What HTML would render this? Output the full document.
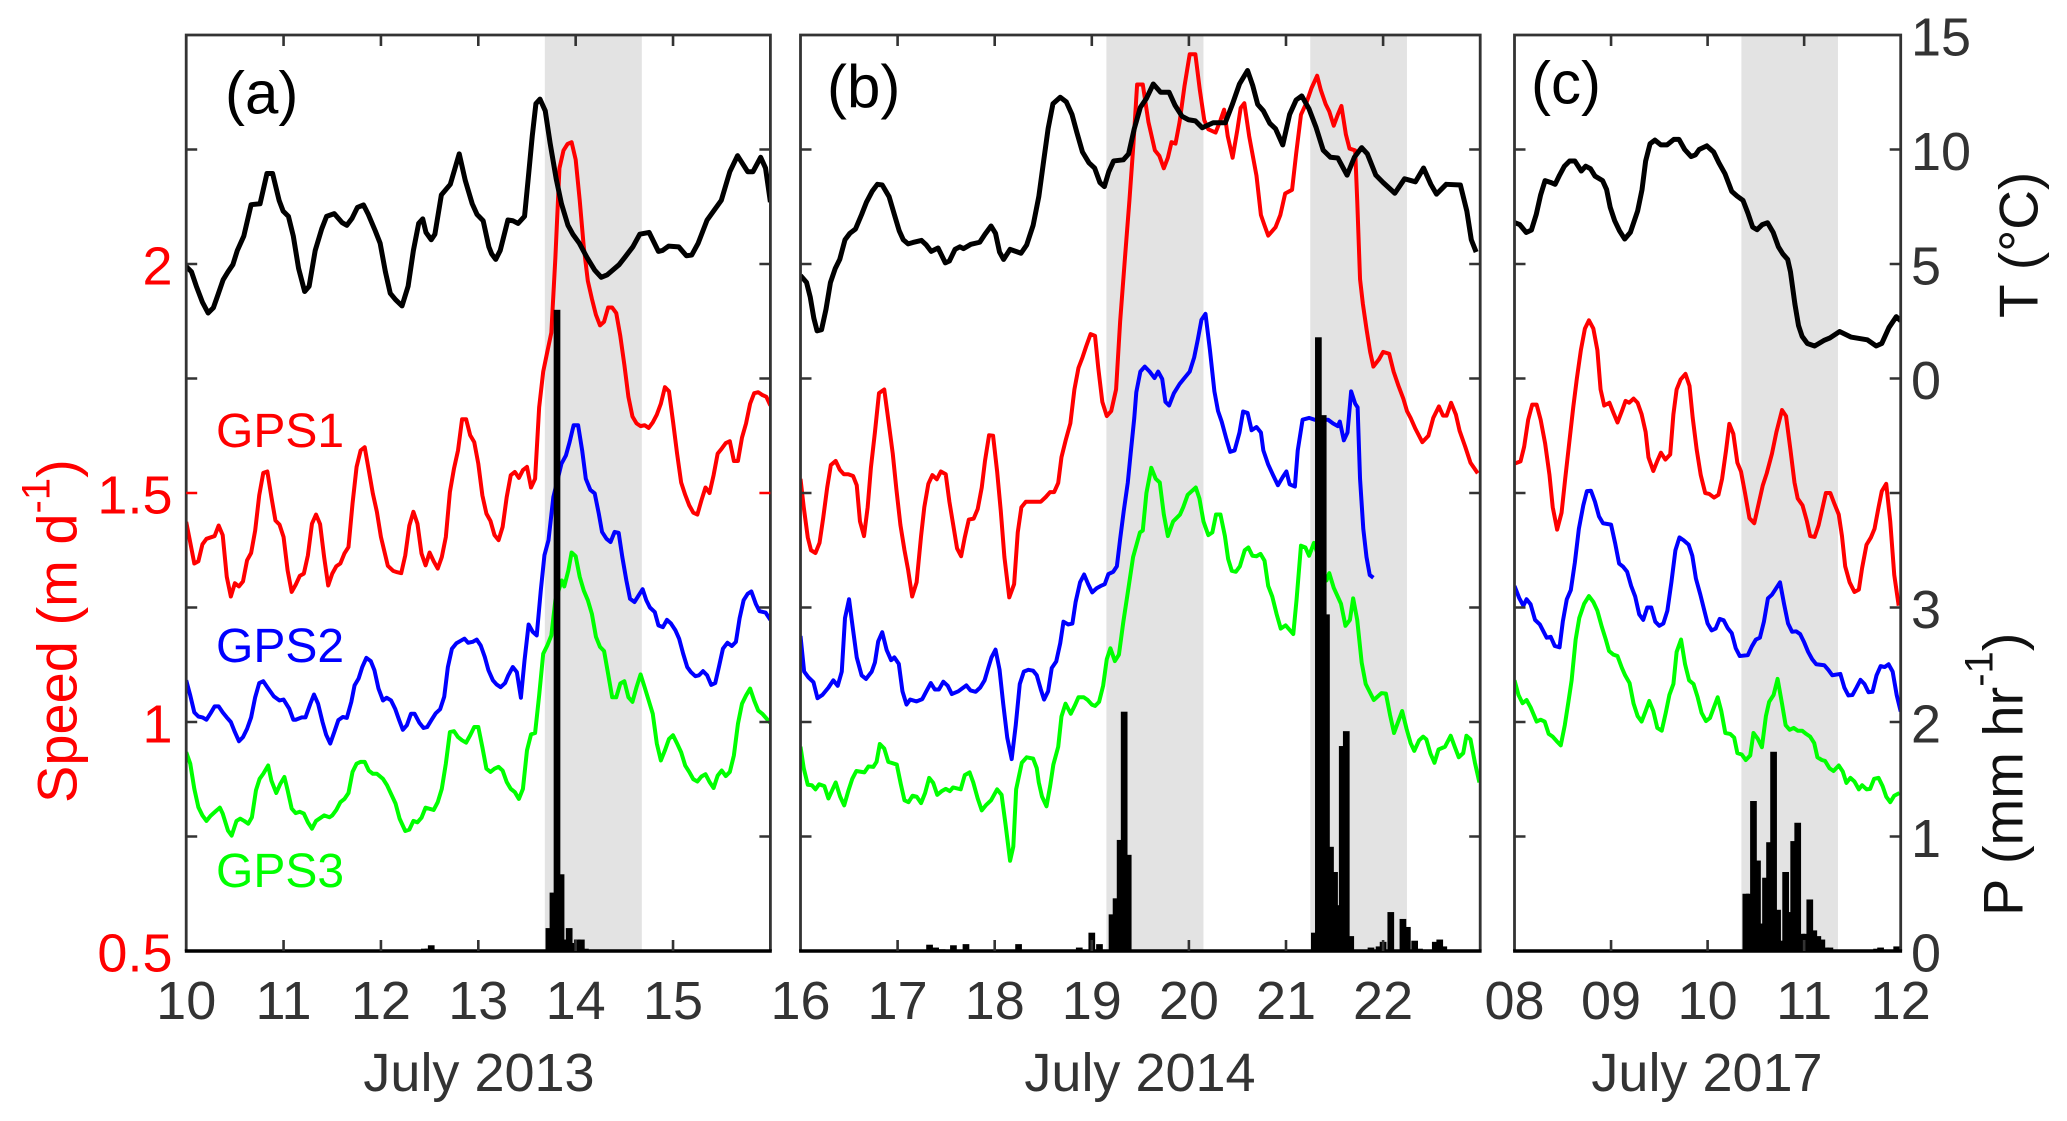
<!DOCTYPE html>
<html lang="en">
<head>
<meta charset="utf-8">
<title>Ice speed, temperature and precipitation, July 2013, 2014, 2017</title>
<style>
html,body{margin:0;padding:0;background:#fff;}
svg{display:block;font-family:"Liberation Sans",Arial,sans-serif;}
</style>
</head>
<body>
<svg id="chart" xmlns="http://www.w3.org/2000/svg" width="2067" height="1121" viewBox="0 0 2067 1121">
  <g id="panels"></g>
  <g id="axis-labels"></g>
  <text x="225" y="113.5" font-size="60" fill="#000">(a)</text>
  <text x="827" y="107" font-size="60" fill="#000">(b)</text>
  <text x="1531" y="103.5" font-size="60" fill="#000">(c)</text>
  <text x="216" y="447" font-size="48" fill="#ff0000">GPS1</text>
  <text x="216" y="662" font-size="48" fill="#0000ff">GPS2</text>
  <text x="216" y="887" font-size="48" fill="#00ff00">GPS3</text>
  <text x="479" y="1091" font-size="54" fill="#333" text-anchor="middle">July 2013</text>
  <text x="1140" y="1091" font-size="54" fill="#333" text-anchor="middle">July 2014</text>
  <text x="1707" y="1091" font-size="54" fill="#333" text-anchor="middle">July 2017</text>
  <text transform="translate(76.5,803) rotate(-90)" font-size="56" fill="#ff0000">Speed (m d<tspan font-size="40" dy="-27">-1</tspan><tspan dy="27">)</tspan></text>
  <text transform="translate(2037.5,318) rotate(-90)" font-size="55" fill="#111">T (°C)</text>
  <text transform="translate(2022.5,916) rotate(-90)" font-size="56" fill="#111">P (mm hr<tspan font-size="40" dy="-30">-1</tspan><tspan dy="30">)</tspan></text>
</svg>
<script>
// Every series is a list of [hours since the first midnight of the panel, value].
const speedTicks = [0.75, 1, 1.25, 1.5, 1.75, 2, 2.25];
const speedTickLabels = [[0.5, "0.5"], [1, "1"], [1.5, "1.5"], [2, "2"]];
const tempTickLabels = [[0, "0"], [5, "5"], [10, "10"], [15, "15"]];
const precipTickLabels = [[0, "0"], [1, "1"], [2, "2"], [3, "3"]];
const daysA = ["10", "11", "12", "13", "14", "15"];
const daysB = ["16", "17", "18", "19", "20", "21", "22"];
const daysC = ["08", "09", "10", "11", "12"];
const shadeHoursA = [[88.4, 112.3]];
const shadeHoursB = [[75.6, 99.6], [126, 149.9]];
const shadeHoursC = [[56.4, 80.4]];

const gps1A = [[0,1.437],[1,1.392],[2,1.346],[3,1.351],[4,1.388],[5,1.4],[6,1.403],[7,1.406],[8,1.429],[9,1.408],[10,1.317],[11,1.274],[12,1.303],[13,1.296],[14,1.307],[15,1.353],[16,1.369],[17,1.418],[18,1.495],[19,1.544],[20,1.547],[21,1.491],[22,1.44],[23,1.431],[24,1.404],[25,1.331],[26,1.284],[27,1.3],[28,1.319],[29,1.324],[30,1.364],[31,1.433],[32,1.453],[33,1.432],[34,1.36],[35,1.298],[36,1.324],[37,1.34],[38,1.346],[39,1.368],[40,1.382],[41,1.477],[42,1.557],[43,1.593],[44,1.6],[45,1.55],[46,1.499],[47,1.459],[48,1.404],[49.7,1.341],[51,1.33],[52,1.327],[53,1.325],[54,1.364],[55,1.429],[56,1.459],[57,1.433],[58,1.368],[59,1.342],[60,1.37],[61,1.351],[62,1.335],[63,1.36],[64,1.404],[65,1.502],[66,1.553],[67,1.593],[68,1.661],[69,1.661],[70,1.626],[71,1.611],[72,1.564],[73,1.495],[74,1.455],[75,1.439],[76,1.408],[77,1.397],[78,1.426],[79,1.491],[80,1.539],[81,1.546],[82,1.533],[83,1.55],[84,1.557],[85,1.512],[86,1.531],[87,1.687],[88,1.765],[89,1.808],[90,1.85],[91,2.014],[92,2.209],[93,2.248],[94,2.262],[95,2.266],[96,2.228],[97,2.139],[98,2.037],[99,1.963],[100,1.924],[101,1.889],[102,1.866],[103,1.874],[104,1.905],[105,1.905],[106,1.893],[107,1.843],[108,1.78],[109,1.71],[110,1.667],[111,1.652],[112,1.646],[113,1.648],[114,1.642],[115,1.654],[116,1.671],[117,1.695],[118,1.731],[119,1.722],[120,1.656],[121,1.586],[122,1.523],[123,1.496],[124,1.473],[125,1.457],[126,1.453],[127,1.484],[128,1.512],[129,1.5],[130,1.539],[131,1.586],[132,1.597],[133,1.609],[134,1.613],[135,1.57],[136,1.57],[137,1.621],[138,1.652],[139,1.695],[140,1.718],[141,1.72],[142,1.714],[143,1.71],[144,1.691]];
const gps2A = [[0,1.091],[1,1.058],[2,1.021],[3,1.012],[4,1.01],[5,1.005],[6,1.019],[7,1.034],[8,1.034],[9,1.021],[10,1.01],[11,1],[12,0.978],[13,0.958],[14,0.967],[15,0.985],[16,1.01],[17,1.054],[18,1.085],[19,1.089],[20,1.076],[21.6,1.056],[23,1.047],[24,1.049],[25.4,1.029],[26.4,1.005],[27,1.005],[28.5,1.01],[29.4,1.01],[30.6,1.04],[31.5,1.06],[32.5,1.04],[33.6,1],[34.5,0.972],[35.5,0.953],[36.5,0.978],[37.5,1.004],[38.6,1.011],[39.6,1.009],[40.7,1.044],[41.5,1.08],[42.5,1.095],[43.4,1.12],[44.4,1.14],[45.5,1.133],[46.4,1.113],[47.4,1.073],[48.5,1.047],[49.4,1.053],[50.5,1.047],[51.5,1.029],[52.5,1.004],[53.4,0.983],[54.4,0.993],[55.4,1.018],[56.3,1.018],[57.5,0.998],[58.5,0.987],[59.4,0.989],[60.5,1.005],[61.5,1.019],[62.6,1.028],[63.6,1.055],[64.5,1.12],[65.5,1.16],[66.6,1.172],[67.6,1.177],[68.6,1.182],[69.5,1.173],[70.6,1.175],[71.6,1.18],[72.6,1.167],[73.6,1.142],[74.5,1.113],[75.6,1.091],[76.5,1.082],[77.5,1.076],[78.6,1.085],[79.4,1.102],[80.5,1.12],[81.5,1.109],[82.5,1.053],[83.4,1.135],[84.4,1.213],[85.4,1.197],[86.4,1.189],[87.4,1.287],[88.3,1.364],[89.3,1.397],[90.5,1.491],[92.5,1.564],[93.6,1.582],[94.5,1.611],[95.5,1.648],[96.6,1.648],[97.6,1.593],[98.5,1.531],[99.6,1.507],[100.7,1.499],[101.7,1.455],[102.5,1.415],[103.6,1.4],[104.6,1.393],[105.6,1.415],[106.6,1.413],[107.5,1.36],[108.5,1.309],[109.4,1.269],[110.5,1.262],[111.5,1.276],[112.5,1.29],[113.4,1.266],[114.3,1.25],[115.5,1.24],[116.4,1.211],[117.5,1.207],[118.5,1.223],[119.5,1.215],[120.6,1.2],[121.5,1.182],[122.5,1.149],[123.5,1.12],[124.4,1.109],[125.5,1.1],[126.4,1.102],[127.4,1.111],[128.4,1.102],[129.4,1.081],[130.4,1.085],[131.3,1.12],[132.3,1.16],[133.4,1.173],[134.5,1.166],[135.5,1.175],[136.4,1.226],[137.4,1.266],[138.4,1.28],[139.3,1.285],[140.4,1.258],[141.3,1.242],[142.8,1.239],[144,1.223]];
const gps3A = [[0,0.934],[1,0.909],[2,0.854],[3,0.814],[4,0.796],[5,0.784],[6,0.795],[7.5,0.807],[8.3,0.813],[9,0.8],[10.3,0.763],[11.2,0.752],[12.4,0.784],[13.3,0.789],[14.3,0.784],[15.3,0.778],[16.2,0.792],[17.2,0.851],[18.1,0.876],[19,0.887],[20.2,0.905],[21,0.872],[22.2,0.845],[23.2,0.865],[24.2,0.88],[25,0.851],[26,0.811],[27,0.801],[28,0.804],[29,0.8],[30,0.781],[31,0.767],[32,0.784],[34,0.796],[35.3,0.792],[36,0.796],[37,0.808],[38,0.825],[39,0.832],[40,0.845],[41,0.891],[42,0.909],[43,0.913],[44,0.913],[45,0.894],[46,0.887],[47,0.887],[48.5,0.876],[49.5,0.862],[50.5,0.843],[51.6,0.822],[52.6,0.789],[54,0.762],[55,0.765],[56,0.784],[57,0.781],[58,0.791],[59,0.813],[61,0.808],[62,0.825],[63,0.854],[64,0.909],[65,0.978],[66,0.98],[67,0.967],[68,0.96],[69,0.955],[70,0.971],[71,0.989],[72,0.989],[73,0.945],[74,0.898],[75,0.891],[76,0.898],[77,0.902],[78,0.894],[79,0.869],[80,0.854],[81,0.847],[82,0.832],[83,0.854],[84,0.938],[85,0.973],[86,0.976],[87,1.058],[88,1.149],[89,1.167],[90,1.189],[91,1.266],[92.6,1.309],[93.2,1.296],[94.2,1.331],[95,1.37],[96,1.362],[97,1.317],[98,1.287],[99,1.266],[100,1.236],[101,1.186],[102,1.164],[103,1.155],[104,1.105],[105,1.054],[106,1.054],[107,1.084],[108,1.089],[109,1.054],[110,1.044],[111,1.076],[112,1.104],[113,1.076],[114,1.047],[115,1.018],[116,0.953],[117,0.916],[118,0.938],[119,0.963],[120,0.971],[121,0.953],[122,0.934],[123,0.905],[124,0.891],[125,0.875],[126,0.87],[127,0.881],[128,0.886],[129,0.869],[130,0.856],[131,0.883],[132,0.894],[133,0.882],[134,0.891],[135,0.927],[136,0.996],[137,1.04],[138,1.058],[139,1.073],[140,1.047],[141,1.025],[142,1.018],[144,0.998]];
const tempA = [[0,4.89],[1.3,4.66],[2.5,4.03],[4,3.33],[5.4,2.86],[6.7,3.09],[7.8,3.64],[9.1,4.31],[10.3,4.66],[11.5,4.97],[12.6,5.59],[14.2,6.22],[16,7.59],[18.2,7.63],[19.9,8.95],[21.3,8.95],[22.9,7.78],[23.9,7.31],[25.2,7.08],[26.4,6.22],[27.7,4.81],[29.2,3.8],[30.3,4.03],[31.8,5.59],[33.4,6.53],[34.6,7.08],[36.5,7.2],[38.4,6.81],[39.6,6.69],[40.9,7],[42.2,7.47],[43.7,7.58],[44.9,7.16],[46.6,6.45],[47.8,5.91],[49.1,4.66],[50.3,3.72],[51.6,3.44],[53.2,3.17],[54.7,4.03],[56,5.59],[57.3,6.77],[58.3,6.97],[59.1,6.38],[60.4,6.06],[61.3,6.3],[62.9,8.02],[65.1,8.48],[67.3,9.81],[68.8,8.64],[70.5,7.63],[71.7,7.16],[73.2,6.89],[74.6,5.75],[75.3,5.44],[76.3,5.2],[77.4,5.59],[79.3,6.92],[80.5,6.89],[81.8,6.77],[83.4,7.08],[84.3,8.72],[85.3,10.59],[86.2,12],[87.2,12.2],[88.5,11.69],[89.7,10.28],[91.2,8.72],[92.5,7.63],[94.1,6.69],[95.3,6.3],[96.9,5.91],[98.8,5.28],[100.7,4.73],[102.3,4.42],[103.8,4.53],[106.7,4.97],[108.2,5.31],[110.1,5.75],[111.8,6.3],[114.1,6.38],[116.4,5.55],[117.4,5.59],[118.9,5.78],[121.4,5.75],[123.3,5.36],[124.6,5.39],[126.2,5.91],[128.4,6.92],[130.3,7.39],[131.9,7.78],[134,9.03],[135.9,9.73],[138.4,9.03],[139.7,9.03],[141.6,9.66],[142.8,9.19],[144,7.7]];
const precipA = [[58.7,0.02],[59.6,0.02],[60.4,0.05],[89.4,0.2],[90.4,0.51],[91.4,5.6],[92.4,0.67],[93.4,0.1],[94.4,0.2],[95.4,0.07],[96.4,0.1],[97.4,0.1],[98.4,0.02]];

const gps1B = [[0,1.531],[0.8,1.469],[1.8,1.403],[2.6,1.375],[3.7,1.369],[4.7,1.391],[5.6,1.445],[6.6,1.512],[7.5,1.561],[8.7,1.57],[9.7,1.551],[10.7,1.541],[11.8,1.541],[13,1.537],[13.9,1.517],[14.7,1.438],[15.7,1.406],[16.6,1.469],[17.4,1.555],[18.4,1.633],[19.4,1.718],[20.7,1.726],[21.7,1.66],[22.8,1.586],[23.7,1.508],[24.7,1.43],[25.7,1.375],[26.6,1.332],[27.6,1.274],[28.7,1.305],[29.8,1.406],[30.6,1.469],[31.6,1.52],[32.6,1.539],[33.7,1.53],[34.7,1.547],[35.9,1.541],[36.8,1.481],[37.9,1.422],[38.7,1.379],[39.7,1.362],[40.6,1.403],[41.6,1.442],[42.8,1.444],[43.8,1.465],[44.8,1.512],[45.6,1.57],[46.6,1.626],[47.6,1.625],[48.6,1.547],[49.5,1.461],[50.4,1.36],[51.6,1.272],[52.8,1.301],[53.7,1.414],[54.6,1.469],[55.7,1.481],[56.7,1.481],[57.9,1.481],[59.4,1.481],[60.6,1.491],[61.7,1.502],[62.7,1.502],[63.7,1.522],[64.5,1.578],[65.6,1.617],[66.7,1.652],[67.7,1.726],[68.7,1.773],[69.7,1.796],[70.6,1.82],[71.7,1.847],[72.8,1.843],[73.6,1.773],[74.6,1.699],[75.7,1.668],[76.8,1.679],[78,1.726],[79,1.874],[80.2,2.014],[81.3,2.139],[82.3,2.263],[83.2,2.392],[84.6,2.392],[86,2.31],[87.6,2.248],[88.7,2.236],[89.8,2.209],[90.8,2.232],[91.7,2.266],[92.7,2.263],[93.7,2.31],[94.9,2.388],[96.2,2.458],[97.6,2.458],[98.7,2.38],[99.8,2.314],[100.8,2.294],[102.6,2.287],[103.8,2.314],[104.7,2.337],[105.6,2.279],[106.8,2.232],[108,2.294],[108.8,2.341],[109.7,2.351],[110.9,2.279],[112.7,2.193],[113.8,2.107],[114.7,2.084],[115.6,2.062],[117.4,2.08],[118.6,2.107],[119.8,2.154],[121.5,2.162],[122.5,2.24],[123.7,2.326],[125.1,2.353],[126.3,2.384],[127.7,2.411],[128.6,2.38],[129.8,2.349],[130.7,2.333],[131.8,2.302],[132.8,2.326],[133.7,2.345],[134.8,2.283],[135.7,2.252],[137.1,2.248],[137.6,2.139],[138.3,1.967],[139,1.913],[139.9,1.858],[140.8,1.808],[141.6,1.776],[143,1.792],[144,1.808],[145.5,1.804],[146.6,1.765],[147.8,1.734],[149,1.706],[149.9,1.679],[150.8,1.664],[152,1.64],[153.7,1.611],[155.2,1.625],[156.4,1.664],[157.8,1.689],[158.8,1.669],[159.7,1.669],[160.8,1.697],[162,1.671],[162.9,1.636],[164.3,1.601],[165.6,1.566],[167.4,1.543]];
const gps2B = [[0,1.188],[0.9,1.11],[1.9,1.098],[3.2,1.087],[4.2,1.052],[5.4,1.059],[6.9,1.075],[8.1,1.091],[9.2,1.079],[10.2,1.11],[11,1.227],[12,1.268],[12.6,1.227],[13.9,1.141],[15.1,1.102],[16.2,1.094],[17.6,1.11],[18.4,1.13],[19.2,1.176],[20.2,1.196],[21.3,1.157],[22.4,1.135],[23.2,1.141],[24.3,1.127],[25.2,1.067],[26.2,1.038],[27.1,1.049],[28.7,1.045],[30.1,1.05],[31.1,1.067],[32.2,1.085],[33.2,1.071],[34.2,1.071],[35.3,1.088],[36.4,1.079],[37.4,1.061],[39,1.067],[41,1.08],[42,1.069],[43.3,1.066],[44.4,1.075],[45.5,1.091],[46.4,1.118],[47.2,1.141],[48.2,1.158],[49.2,1.114],[50.1,1.04],[51.1,0.966],[52.2,0.919],[53.2,0.993],[54.2,1.083],[55.2,1.11],[56.3,1.114],[57.5,1.112],[58.4,1.102],[59.4,1.071],[60.2,1.049],[61.2,1.067],[62.1,1.118],[63.2,1.132],[64.2,1.172],[65,1.219],[66.2,1.213],[67.2,1.215],[68,1.262],[69.1,1.305],[70.1,1.322],[71.1,1.301],[72.1,1.283],[73.2,1.292],[74.2,1.297],[75.2,1.301],[76.1,1.323],[77.3,1.328],[78.2,1.34],[79,1.399],[79.9,1.461],[80.9,1.523],[81.6,1.586],[82.5,1.664],[83,1.72],[84,1.765],[85.1,1.776],[86.3,1.765],[87.5,1.751],[88.4,1.765],[89.4,1.749],[90.2,1.699],[91.1,1.691],[92.3,1.718],[93.7,1.738],[94.9,1.751],[96.2,1.765],[97.3,1.796],[98.2,1.835],[99.1,1.878],[100.1,1.891],[101.2,1.812],[102.3,1.722],[103.2,1.679],[104.1,1.656],[105.2,1.62],[106.2,1.59],[107.3,1.593],[108.5,1.632],[109.4,1.678],[110.5,1.675],[111.5,1.637],[112.7,1.644],[113.8,1.632],[114.4,1.593],[115.6,1.562],[116.8,1.539],[118,1.517],[119.2,1.535],[120.1,1.547],[120.9,1.519],[122.2,1.514],[122.9,1.593],[124.1,1.66],[125.7,1.664],[127.1,1.66],[130.4,1.66],[131.6,1.652],[132.8,1.646],[133.3,1.656],[134.3,1.615],[135.2,1.632],[136.1,1.722],[137.1,1.695],[137.7,1.687],[138.3,1.531],[139.1,1.422],[139.9,1.36],[140.7,1.321],[141.6,1.315]];
const gps3B = [[0,0.946],[0.8,0.899],[1.8,0.863],[2.8,0.862],[3.7,0.853],[4.6,0.864],[5.9,0.86],[6.9,0.833],[8.7,0.868],[9.8,0.837],[10.8,0.818],[11.8,0.849],[12.8,0.876],[13.8,0.893],[15.8,0.89],[16.8,0.903],[18,0.902],[18.8,0.913],[19.6,0.952],[20.7,0.942],[21.7,0.913],[23.8,0.907],[24.8,0.864],[25.7,0.829],[26.7,0.825],[27.7,0.839],[28.7,0.837],[29.8,0.823],[30.8,0.845],[31.8,0.878],[32.8,0.867],[33.8,0.841],[34.9,0.849],[35.9,0.854],[36.9,0.849],[37.7,0.857],[39.6,0.853],[40.6,0.884],[41.8,0.89],[42.7,0.868],[43.8,0.833],[44.8,0.807],[45.8,0.818],[47.1,0.829],[48.6,0.853],[49.7,0.841],[50.7,0.775],[51.8,0.697],[52.6,0.728],[53.3,0.853],[54.7,0.911],[55.9,0.923],[57.5,0.92],[58.4,0.899],[58.9,0.868],[59.7,0.837],[60.8,0.816],[61.7,0.86],[62.5,0.907],[63.7,0.946],[64.5,1.012],[65.5,1.04],[66.8,1.018],[67.8,1.036],[68.7,1.054],[70,1.054],[71,1.048],[72,1.038],[72.8,1.035],[73.8,1.044],[74.8,1.079],[75.7,1.137],[76.6,1.161],[77.7,1.133],[78.7,1.147],[79.8,1.219],[81,1.289],[82.2,1.36],[83.9,1.414],[84.6,1.418],[85.5,1.5],[86.7,1.555],[87.8,1.531],[88.8,1.523],[89.8,1.453],[90.8,1.406],[92.1,1.438],[93.8,1.453],[94.6,1.469],[95.7,1.496],[97.7,1.512],[98.6,1.488],[99.6,1.438],[100.8,1.408],[101.8,1.414],[102.7,1.453],[103.8,1.453],[104.9,1.406],[105.7,1.356],[106.6,1.33],[107.6,1.328],[108.6,1.34],[109.8,1.375],[110.7,1.381],[111.7,1.363],[112.7,1.362],[113.7,1.367],[114.7,1.352],[115.6,1.297],[116.6,1.274],[117.7,1.235],[118.7,1.204],[119.9,1.211],[121.8,1.192],[122.6,1.266],[123.7,1.385],[124.8,1.381],[125.7,1.363],[126.9,1.391],[130,1.309],[130.7,1.325],[131.8,1.293],[133.6,1.258],[134.7,1.21],[135.8,1.223],[136.6,1.27],[137.6,1.223],[138.7,1.13],[139.7,1.083],[141.7,1.048],[143.6,1.063],[144.7,1.062],[145.7,1.016],[146.7,0.976],[148.7,1.024],[149.8,0.985],[150.8,0.954],[151.7,0.937],[152.9,0.96],[153.9,0.968],[154.7,0.962],[155.7,0.931],[156.7,0.911],[157.7,0.94],[159.3,0.946],[160.7,0.97],[161.7,0.946],[162.7,0.923],[163.8,0.932],[164.6,0.97],[165.6,0.962],[166.7,0.911],[167.8,0.868]];
const tempB = [[0,4.5],[1.5,4.19],[2.4,3.56],[3.3,2.63],[4.1,2.08],[5.2,2.13],[6.3,3.02],[7.4,4.19],[8.6,4.81],[9.7,5.2],[11,6.06],[12.2,6.34],[13.6,6.53],[15.1,7.16],[16.3,7.7],[17.7,8.17],[19,8.48],[20.2,8.45],[21.9,7.94],[23.2,7.16],[24.4,6.45],[25.4,6.06],[26.6,5.88],[27.8,5.94],[29.9,6.03],[31.1,5.83],[32.3,5.55],[34,5.7],[35.8,5.05],[36.8,5.13],[38.2,5.64],[39.4,5.75],[40.3,5.67],[42.1,5.86],[44.3,5.95],[45.6,6.3],[47.1,6.66],[48.2,6.34],[49.2,5.52],[50.2,5.2],[51.8,5.64],[54.5,5.47],[55.9,5.83],[57.5,6.69],[58.9,7.94],[60.1,9.5],[61.2,10.91],[62.4,12],[64.2,12.28],[65.7,12.08],[67.1,11.53],[68.3,10.75],[69.7,9.89],[71.3,9.42],[72.7,9.19],[74,8.56],[75.1,8.38],[76.2,9.03],[77.4,9.5],[79.8,9.55],[81.1,9.81],[82.5,10.91],[84,11.84],[85.5,12.23],[87.2,12.86],[89,12.5],[91.1,12.5],[92.6,11.92],[94.3,11.45],[95.9,11.3],[97.6,11.25],[99.3,10.95],[102,11.17],[105,11.17],[106.8,12],[108.5,12.86],[110.5,13.45],[111.8,12.78],[113,11.97],[114.4,11.69],[116,11.14],[117.4,10.91],[119.2,10.2],[120.9,11.53],[122.5,12.16],[123.9,12.34],[125.7,11.77],[127.4,10.98],[129.2,9.97],[131,9.66],[132.8,9.63],[135.1,8.88],[136.9,9.66],[138.7,10.08],[140.1,9.81],[142.2,8.88],[144,8.56],[146.9,8.09],[149.3,8.72],[152,8.59],[154,9.19],[155.8,8.48],[157.2,8.05],[159.6,8.48],[163.1,8.45],[164.7,7.31],[165.8,6.06],[167,5.52]];
const precipB = [[31.9,0.055],[33.4,0.03],[35,0.015],[37.8,0.05],[40.9,0.06],[53.9,0.06],[68.9,0.03],[72,0.16],[73.9,0.06],[77,0.32],[78,0.46],[79,0.97],[80,2.09],[81,0.84],[127,0.16],[128,5.36],[129.2,4.68],[130,2.94],[131,0.91],[132,0.69],[133,0.4],[133.9,1.79],[134.9,1.92],[136,0.13],[141,0.03],[143,0.04],[144,0.08],[145.9,0.34],[147,0.01],[148.9,0.28],[150,0.21],[151.8,0.09],[153,0.02],[156.9,0.08],[158,0.1],[159,0.04]];

const gps1C = [[0,1.564],[1.5,1.569],[2.4,1.601],[3.4,1.66],[4.4,1.693],[5.5,1.693],[6.5,1.66],[7.6,1.609],[8.7,1.539],[9.5,1.469],[10.6,1.42],[11.7,1.457],[12.6,1.531],[13.6,1.609],[14.6,1.687],[15.5,1.75],[16.5,1.812],[17.5,1.859],[18.5,1.877],[19.6,1.859],[20.6,1.812],[21.4,1.726],[22.3,1.691],[23.6,1.697],[24.6,1.675],[25.6,1.654],[26.7,1.679],[27.6,1.701],[28.5,1.697],[29.6,1.706],[30.6,1.697],[31.6,1.672],[32.6,1.633],[33.3,1.578],[34.5,1.548],[35.5,1.57],[36.4,1.588],[37.5,1.573],[38.7,1.584],[39.5,1.672],[40.3,1.726],[41.3,1.748],[42.5,1.76],[43.5,1.734],[44.3,1.664],[45.3,1.594],[46.3,1.539],[47.4,1.5],[48.4,1.498],[49.6,1.49],[50.7,1.496],[51.6,1.531],[52.6,1.594],[53.4,1.651],[54.4,1.629],[55.4,1.566],[56.3,1.547],[57.3,1.5],[58.4,1.445],[59.6,1.434],[60.7,1.477],[61.7,1.516],[62.7,1.543],[64,1.586],[65.1,1.633],[66.5,1.681],[67.5,1.668],[68.6,1.594],[69.6,1.523],[70.4,1.488],[71.6,1.473],[72.7,1.438],[73.5,1.406],[74.6,1.404],[75.6,1.43],[76.4,1.461],[77.4,1.5],[78.5,1.5],[79.5,1.477],[80.6,1.453],[81.4,1.406],[82.2,1.34],[83.3,1.305],[84.5,1.284],[85.6,1.289],[86.4,1.336],[87.5,1.387],[88.6,1.403],[89.5,1.422],[90.5,1.469],[91.3,1.504],[92.4,1.52],[93.4,1.438],[94.4,1.321],[95.5,1.254]];
const gps2C = [[0,1.297],[1.2,1.27],[2.2,1.254],[3,1.268],[4,1.257],[5.1,1.223],[6.3,1.213],[8,1.184],[9,1.186],[10,1.166],[11.2,1.163],[12,1.219],[13,1.268],[14,1.288],[15,1.348],[16,1.422],[17.1,1.473],[18,1.504],[19,1.505],[20,1.481],[21,1.449],[22,1.434],[24,1.431],[25,1.391],[26,1.346],[27,1.339],[28,1.328],[29,1.297],[30,1.274],[31,1.235],[32,1.223],[33,1.25],[34,1.25],[35,1.219],[36,1.21],[37,1.215],[38,1.243],[39,1.305],[40,1.375],[41,1.403],[42,1.397],[43.3,1.387],[44.2,1.363],[45.1,1.313],[46.2,1.278],[47.2,1.243],[48,1.215],[49,1.2],[50,1.204],[51,1.225],[52,1.222],[53,1.205],[54,1.194],[55,1.161],[56,1.144],[58,1.146],[59,1.165],[60,1.18],[61,1.184],[62,1.219],[63,1.27],[64,1.278],[66,1.305],[67,1.258],[68,1.215],[69,1.197],[70,1.198],[71,1.192],[72,1.174],[73,1.153],[74,1.137],[75,1.126],[77,1.124],[78,1.114],[79,1.102],[81,1.105],[82,1.075],[83,1.058],[84,1.059],[85,1.075],[86,1.092],[87,1.083],[88,1.065],[89,1.066],[90,1.102],[91,1.122],[92,1.12],[93,1.126],[94,1.11],[95,1.059],[96,1.023]];
const gps3C = [[0,1.091],[1,1.059],[2,1.041],[3,1.048],[4,1.032],[5.5,1.001],[6.5,1.005],[7.5,1.001],[8.5,0.974],[9.5,0.968],[10.5,0.958],[11.5,0.949],[12.5,0.993],[13.4,1.044],[14.2,1.091],[15.2,1.18],[16.1,1.227],[17.3,1.258],[18.5,1.275],[19.6,1.262],[20.6,1.243],[21.7,1.208],[22.7,1.18],[23.5,1.155],[24.6,1.147],[25.6,1.144],[26.7,1.118],[27.5,1.102],[28.6,1.085],[29.6,1.04],[30.6,1.013],[31.6,1.001],[32.6,1.024],[33.5,1.046],[34.5,1.024],[35.5,0.987],[36.6,0.981],[37.6,1.02],[38.5,1.059],[39.5,1.083],[40.3,1.153],[41.4,1.18],[42.4,1.126],[43.4,1.091],[44.5,1.083],[45.5,1.055],[46.5,1.02],[47.6,1.002],[48.6,1.009],[50.5,1.054],[51.4,1.024],[52.4,0.976],[53.6,0.974],[54.6,0.966],[55.4,0.932],[56.5,0.929],[57.5,0.917],[58.6,0.927],[59.4,0.976],[60.5,0.963],[61.5,0.945],[62.5,1.013],[63.3,1.044],[64.4,1.059],[65.4,1.094],[66.5,1.04],[67.4,0.993],[68.4,0.983],[69.4,0.987],[70.4,0.981],[71.5,0.981],[72.5,0.974],[73.5,0.968],[74.5,0.954],[75.3,0.923],[76.4,0.917],[77.2,0.915],[78.3,0.899],[79.3,0.893],[80.6,0.905],[81.6,0.892],[82.5,0.867],[83.5,0.878],[84.5,0.87],[85.6,0.853],[86.4,0.862],[87.5,0.853],[88.4,0.854],[89.4,0.876],[90.5,0.878],[91.5,0.86],[92.4,0.837],[93.4,0.825],[94.4,0.839],[95.7,0.845]];
const tempC = [[0,6.81],[1.3,6.72],[2.9,6.38],[4.2,6.48],[5.4,7.16],[6.5,8.02],[7.6,8.64],[9,8.56],[10.1,8.48],[11.2,8.88],[12.4,9.27],[13.7,9.5],[15,9.5],[16.6,9.06],[17.7,9.27],[18.9,9.16],[20,8.84],[21.9,8.64],[22.9,8.25],[23.8,7.47],[24.9,6.89],[26.1,6.45],[27.4,6.09],[28.8,6.38],[30.6,7.31],[31.7,8.25],[32.6,9.5],[33.7,10.25],[34.9,10.41],[36.4,10.2],[37.9,10.2],[39.6,10.44],[40.9,10.44],[42.3,10],[43.9,9.69],[45,9.77],[45.9,10],[47.8,10.16],[49.5,9.89],[50.8,9.42],[52.3,8.95],[54,8.17],[55.3,7.97],[56.8,7.78],[58,7.23],[59.2,6.61],[60.3,6.5],[61.6,6.72],[62.9,6.8],[64.3,6.38],[65.6,5.75],[66.7,5.44],[67.9,5.2],[68.6,4.66],[69.7,3.25],[70.6,2.31],[71.5,1.84],[72.8,1.53],[74.6,1.42],[76.9,1.66],[78.4,1.77],[80.8,2.05],[83.6,1.81],[87.7,1.69],[89.9,1.42],[91.3,1.53],[93.1,2.23],[94.9,2.7],[96,2.52]];
const precipC = [[57.5,0.5],[58.4,0.5],[59.4,1.31],[60.4,0.79],[61.4,0.24],[62.4,0.64],[63.4,0.95],[64.4,1.74],[65.4,0.36],[66.4,0.09],[67.4,0.69],[68.4,0.34],[69.4,0.96],[70.4,1.12],[71.4,0.15],[72.4,0.15],[73.4,0.45],[74.4,0.18],[75.4,0.13],[76.4,0.1],[77.4,0.03],[78.4,0.03],[90,0.02],[91,0.03],[95,0.04]];

const PLOT_TOP = 35;
const PLOT_BOTTOM = 951;
const SVG_NS = "http://www.w3.org/2000/svg";

function ySpeed(v) { return PLOT_BOTTOM - (v - 0.5) / 2 * (PLOT_BOTTOM - PLOT_TOP); }
function yTemp(t) { return PLOT_BOTTOM - (t + 25) / 40 * (PLOT_BOTTOM - PLOT_TOP); }
function yPrecip(p) { return PLOT_BOTTOM - p / 8 * (PLOT_BOTTOM - PLOT_TOP); }

function make(parent, tag, attrs) {
  const node = document.createElementNS(SVG_NS, tag);
  for (const key in attrs) node.setAttribute(key, attrs[key]);
  parent.appendChild(node);
  return node;
}

function drawLine(group, series, xScale, yScale, colour, width, name) {
  const pts = series.map(function (p) { return xScale(p[0]).toFixed(2) + "," + yScale(p[1]).toFixed(2); }).join(" ");
  const line = make(group, "polyline", { points: pts, fill: "none", stroke: colour, "stroke-width": width, "stroke-linejoin": "round" });
  
  
}

function drawPanel(cfg) {
  const root = document.getElementById("panels");
  const g = make(root, "g", {});
  
  
  const L = cfg.left, R = cfg.right, T = PLOT_TOP, B = PLOT_BOTTOM;
  const dayCount = cfg.days.length - (cfg.lastDayLabelled ? 1 : 0);
  const hourPx = (R - L) / (dayCount * 24);
  const xScale = function (h) { return L + h * hourPx; };

  const defs = make(g, "defs", {});
  const clip = make(defs, "clipPath", { id: "clip-" + cfg.id });
  make(clip, "rect", { x: L, y: T, width: R - L, height: B - T });

  cfg.shades.forEach(function (s, i) {
    const band = make(g, "rect", { x: xScale(s[0]), y: T, width: xScale(s[1]) - xScale(s[0]), height: B - T, fill: "#e3e3e3" });
    
    
  });

  const marks = make(g, "g", { "clip-path": "url(#clip-" + cfg.id + ")" });
  drawLine(marks, cfg.gps1, xScale, ySpeed, "#ff0000", 4, "line-gps1-" + cfg.id);
  drawLine(marks, cfg.gps2, xScale, ySpeed, "#0000ff", 4, "line-gps2-" + cfg.id);
  drawLine(marks, cfg.gps3, xScale, ySpeed, "#00ff00", 4, "line-gps3-" + cfg.id);
  drawLine(marks, cfg.temp, xScale, yTemp, "#000000", 5, "line-temperature-" + cfg.id);

  cfg.precip.forEach(function (p) {
    const top = yPrecip(p[1]);
    const bar = make(marks, "rect", { x: xScale(p[0]) - 3.35, y: top, width: 6.7, height: B - top, fill: "#000" });
    
    
  });

  const axisColour = "#333";
  const box = make(g, "path", { d: "M" + L + " " + B + "V" + T + "H" + R + "V" + B, fill: "none", stroke: axisColour, "stroke-width": 2.8 });
  
  
  const base = make(g, "line", { x1: L - 1.4, x2: R + 1.4, y1: B, y2: B, stroke: "#000", "stroke-width": 3.6 });
  
  

  speedTicks.forEach(function (v) {
    const y = ySpeed(v);
    const colour = (cfg.id === "a" && v === 1.5) ? "#ff0000" : axisColour;
    const tick = make(g, "path", { d: "M" + L + " " + y + "h11M" + R + " " + y + "h-11", stroke: colour, "stroke-width": 2.6, fill: "none" });
    
    
  });

  cfg.days.forEach(function (label, i) {
    const x = xScale(i * 24);
    if (i > 0 && x < R - 1) {
      const tick = make(g, "path", { d: "M" + x + " " + B + "v-11M" + x + " " + T + "v11", stroke: axisColour, "stroke-width": 2.6, fill: "none" });
      
      
    }
    const text = make(g, "text", { x: x, y: 1019, "font-size": 54, fill: "#333", "text-anchor": "middle" });
    text.textContent = label;
    
    
  });
}

drawPanel({ id: "a", left: 186.2, right: 770.4, days: daysA, lastDayLabelled: false, shades: shadeHoursA, gps1: gps1A, gps2: gps2A, gps3: gps3A, temp: tempA, precip: precipA });
drawPanel({ id: "b", left: 800.5, right: 1480.2, days: daysB, lastDayLabelled: false, shades: shadeHoursB, gps1: gps1B, gps2: gps2B, gps3: gps3B, temp: tempB, precip: precipB });
drawPanel({ id: "c", left: 1514.5, right: 1900.7, days: daysC, lastDayLabelled: true, shades: shadeHoursC, gps1: gps1C, gps2: gps2C, gps3: gps3C, temp: tempC, precip: precipC });

const labelLayer = document.getElementById("axis-labels");
speedTickLabels.forEach(function (t) {
  const text = make(labelLayer, "text", { x: 172.5, y: ySpeed(t[0]) + 20.5, "font-size": 54, fill: "#ff0000", "text-anchor": "end" });
  text.textContent = t[1];
  
  
});
tempTickLabels.forEach(function (t) {
  const text = make(labelLayer, "text", { x: 1911, y: yTemp(t[0]) + 20.5, "font-size": 54, fill: "#333" });
  text.textContent = t[1];
  
  
});
precipTickLabels.forEach(function (t) {
  const text = make(labelLayer, "text", { x: 1911, y: yPrecip(t[0]) + 20.5, "font-size": 54, fill: "#333" });
  text.textContent = t[1];
  
  
});
</script>
</body>
</html>
